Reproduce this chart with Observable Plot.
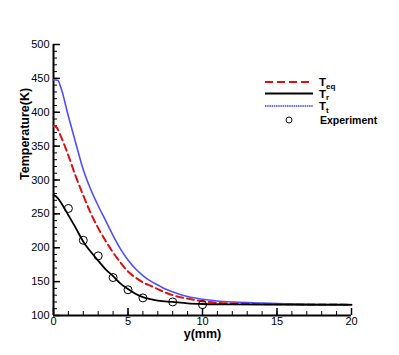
<!DOCTYPE html>
<html>
<head>
<meta charset="utf-8">
<script src="https://cdn.jsdelivr.net/npm/d3@7"></script>
<script src="https://cdn.jsdelivr.net/npm/@observablehq/plot@0.6"></script>
<style>
  html, body { margin: 0; padding: 0; background: #fff; }
  #wrap { position: relative; width: 399px; height: 355px; font-family: "Liberation Sans", Arial, sans-serif; }
  #legend { position: absolute; left: 0; top: 0; pointer-events: none; }
</style>
</head>
<body>
<div id="wrap"></div>
<script>
// Teq (red dashed)
const teqX = [0, 0.2, 0.5, 1, 1.5, 2, 2.5, 3, 3.5, 4, 4.5, 5, 5.5, 6, 6.5, 7, 7.5, 8, 8.5, 9, 10, 11, 12, 13, 14, 16, 18, 20];
const teqY = [380, 378, 364, 336, 305, 277, 251, 229, 210, 193, 178, 165, 156, 149, 144, 139, 134, 130, 127, 125, 121, 118.8, 117.8, 117.2, 116.9, 116.5, 116.2, 116];
// Tr (black solid)
const trX = [0, 0.3, 0.6, 1, 1.5, 2, 2.5, 3, 3.5, 4, 4.5, 5, 5.5, 6, 6.5, 7, 8, 9, 10, 12, 15, 20];
const trY = [278, 273, 263, 248, 229, 209, 194, 181, 168, 158, 147, 139, 132, 127, 124, 122, 120, 118, 117, 116.3, 116, 115.6];
// Tt (blue)
const ttX = [0, 0.3, 0.5, 1, 1.5, 2, 2.5, 3, 3.5, 4, 4.5, 5, 5.5, 6, 6.5, 7, 7.5, 8, 8.5, 9, 10, 11, 12, 13, 14, 15, 16, 18, 20];
const ttY = [448, 447, 436, 394, 354, 315, 286, 262, 240, 218, 198, 182, 169, 159, 151, 145, 139, 135, 131, 128, 124, 121.5, 120, 119, 118.3, 117.8, 117.3, 116.7, 116.2];
// Experiment (circles)
const expX = [1, 2, 3, 4, 5, 6, 8, 10];
const expY = [258, 211, 188, 156, 138, 126, 120, 116];

const xMajor = [0, 5, 10, 15, 20];
const xMinor = d3.range(0, 21, 1);
const yMajor = [100, 150, 200, 250, 300, 350, 400, 450, 500];
const yMinor = d3.range(100, 501, 10);

const zip = (xs, ys) => xs.map((x, i) => ({x, y: ys[i]}));
const teq = zip(teqX, teqY), tr = zip(trX, trY), tt = zip(ttX, ttY), ex = zip(expX, expY);

const RED = "#dd1111", BLUE = "#4f4fff";

const chart = Plot.plot({
  width: 399,
  height: 355,
  marginLeft: 53,
  marginRight: 48,
  marginTop: 44,
  marginBottom: 40,
  style: {fontFamily: "'Liberation Sans', Arial, sans-serif", fontSize: "11px", background: "white", color: "black"},
  x: {domain: [0, 20]},
  y: {domain: [100, 500]},
  marks: [
    // inward minor ticks
    Plot.axisY({ticks: yMinor, tickSize: 4, dx: 4, text: null, label: null}),
    Plot.axisX({ticks: xMinor, tickSize: 4, dy: -4, text: null, label: null}),
    // inward major ticks
    Plot.axisY({ticks: yMajor, tickSize: 7, dx: 7, text: null, label: null, strokeWidth: 1.5}),
    Plot.axisX({ticks: xMajor, tickSize: 7, dy: -7, text: null, label: null, strokeWidth: 1.5}),
    // labels
    Plot.axisY({ticks: yMajor, tickSize: 0, tickPadding: 4, label: null, fontSize: 11}),
    Plot.axisX({ticks: xMajor, tickSize: 0, tickPadding: 2, label: null, fontSize: 11}),
    Plot.ruleX([0], {stroke: "black", strokeWidth: 2}),
    Plot.ruleY([100], {stroke: "black", strokeWidth: 2}),
    Plot.text(["Temperature(K)"], {frameAnchor: "left", dx: -29, rotate: -90, fontWeight: "bold", fontSize: 12.5, fill: "black"}),
    Plot.text(["y(mm)"], {frameAnchor: "bottom", dy: 22.5, fontWeight: "bold", fontSize: 12.5, fill: "black"}),
    // data
    Plot.line(tt, {x: "x", y: "y", stroke: BLUE, strokeWidth: 1.6, curve: "monotone-x"}),
    Plot.line(teq, {x: "x", y: "y", stroke: RED, strokeWidth: 2, strokeDasharray: "7,4", curve: "monotone-x"}),
    Plot.line(tr, {x: "x", y: "y", stroke: "black", strokeWidth: 1.8, curve: "monotone-x"}),
    Plot.dot(ex, {x: "x", y: "y", r: 4, stroke: "black", strokeWidth: 1, fill: "none"})
  ]
});

const wrap = document.getElementById("wrap");
wrap.appendChild(chart);

// legend overlay
const ns = "http://www.w3.org/2000/svg";
const leg = document.createElementNS(ns, "svg");
leg.setAttribute("id", "legend");
leg.setAttribute("width", 399);
leg.setAttribute("height", 355);
leg.innerHTML = `
  <g font-family="'Liberation Sans', Arial, sans-serif" font-weight="bold" fill="black">
    <line x1="265" x2="313" y1="82" y2="82" stroke="${RED}" stroke-width="2" stroke-dasharray="8,4"/>
    <text x="319" y="86" font-size="11.5">T<tspan font-size="8" dy="2.5">eq</tspan></text>
    <line x1="265" x2="313" y1="93.5" y2="93.5" stroke="black" stroke-width="1.8"/>
    <text x="319" y="97.5" font-size="11.5">T<tspan font-size="8" dy="2.5">r</tspan></text>
    <line x1="265" x2="313" y1="106" y2="106" stroke="#3c3cff" stroke-width="1.6" stroke-dasharray="1.5,0.7"/>
    <text x="319" y="110" font-size="11.5">T<tspan font-size="8" dy="2.5">t</tspan></text>
    <circle cx="289" cy="120" r="3" fill="none" stroke="black" stroke-width="1"/>
    <text x="320" y="124" font-size="10.5">Experiment</text>
  </g>`;
wrap.appendChild(leg);
</script>
</body>
</html>
